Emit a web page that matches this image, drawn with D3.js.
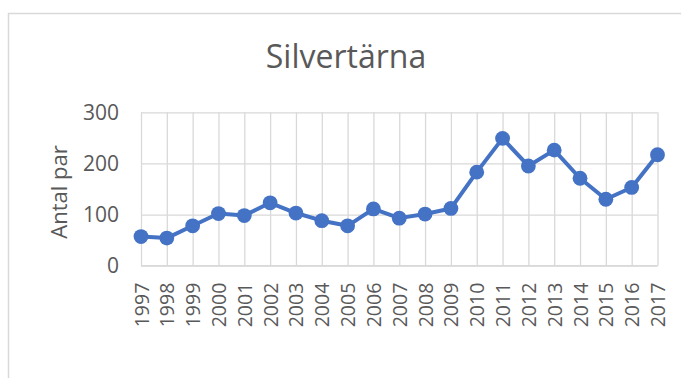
<!DOCTYPE html>
<html>
<head>
<meta charset="utf-8">
<script src="https://cdn.jsdelivr.net/npm/d3@7"></script>
<style>
  html, body { margin: 0; padding: 0; background: #fff; }
  svg { display: block; }
  text { font-family: "Open Sans", sans-serif; fill: #595959; }
</style>
</head>
<body>
<svg id="chart" width="681" height="378"></svg>
<script>
// Silvertärna – antal häckande par per år
const years = ["1997","1998","1999","2000","2001","2002","2003","2004","2005","2006","2007",
               "2008","2009","2010","2011","2012","2013","2014","2015","2016","2017"];
const pairs = [57, 54, 78, 102, 98, 123, 103, 88, 78, 111, 93,
               101, 112, 183, 249, 195, 226, 171, 130, 153, 217];
const yTicks = [0, 100, 200, 300];

const svg = d3.select("#chart");
const plot = { left: 141, right: 657.5, top: 112.3, bottom: 265.7 };

// outer chart frame (runs past the right and bottom edges)
svg.append("rect")
  .attr("x", 8.5).attr("y", 13.5)
  .attr("width", 720).attr("height", 420)
  .attr("fill", "none").attr("stroke", "#d9d9d9").attr("stroke-width", 1.5);

const x = d3.scalePoint().domain(years).range([plot.left, plot.right]);
const y = d3.scaleLinear().domain([0, 300]).range([plot.bottom, plot.top]);

// horizontal gridlines + y labels
const yAxis = d3.axisLeft(y).tickValues(yTicks).tickSize(-(plot.right - plot.left)).tickPadding(22);
const gy = svg.append("g").attr("transform", `translate(${plot.left},0)`).call(yAxis);
gy.select(".domain").remove();
gy.selectAll(".tick line").attr("stroke", "#d9d9d9").attr("stroke-width", 1.3);
gy.selectAll(".tick text").style("font-size", "21px").attr("fill", "#595959");

// vertical gridlines + rotated year labels
const xAxis = d3.axisBottom(x).tickSize(-(plot.bottom - plot.top)).tickPadding(0);
const gx = svg.append("g").attr("transform", `translate(0,${plot.bottom})`).call(xAxis);
gx.select(".domain").remove();
gx.selectAll(".tick line").attr("stroke", "#d9d9d9").attr("stroke-width", 1.3);
gx.selectAll(".tick text")
  .style("font-size", "19.5px")
  .attr("fill", "#595959")
  .attr("text-anchor", "end")
  .attr("transform", "translate(0,17) rotate(-90)")
  .attr("x", 0).attr("y", 0).attr("dy", "0.36em");

// bottom axis line
svg.append("line")
  .attr("x1", plot.left).attr("x2", plot.right)
  .attr("y1", plot.bottom).attr("y2", plot.bottom)
  .attr("stroke", "#d9d9d9").attr("stroke-width", 1.5);

// series line and markers
const line = d3.line().x((d, i) => x(years[i])).y(d => y(d));
svg.append("path")
  .datum(pairs)
  .attr("d", line)
  .attr("fill", "none")
  .attr("stroke", "#4472c4")
  .attr("stroke-width", 4)
  .attr("stroke-linejoin", "round");

svg.append("g").selectAll("circle")
  .data(pairs)
  .join("circle")
  .attr("cx", (d, i) => x(years[i]))
  .attr("cy", d => y(d))
  .attr("r", 7.4)
  .attr("fill", "#4472c4");

// title
svg.append("text")
  .attr("x", 346).attr("y", 68)
  .attr("text-anchor", "middle")
  .style("font-size", "32px")
  .text("Silvertärna");

// y-axis title
svg.append("text")
  .attr("transform", `translate(67,${(plot.top + plot.bottom) / 2 + 3}) rotate(-90)`)
  .attr("text-anchor", "middle")
  .style("font-size", "22px")
  .text("Antal par");
</script>
</body>
</html>
